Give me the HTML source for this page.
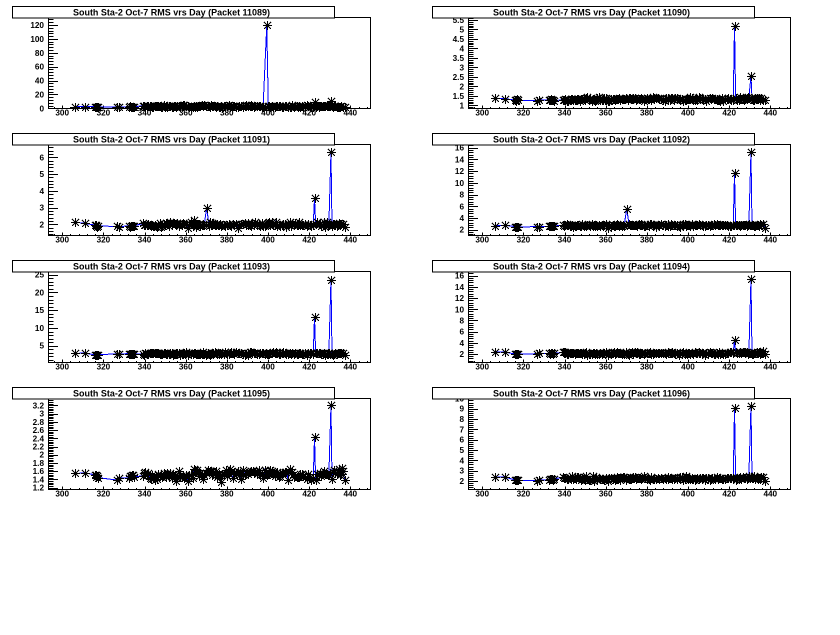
<!DOCTYPE html>
<html>
<head>
<meta charset="utf-8">
<style>
  html,body{margin:0;padding:0;background:#fff;}
  svg{display:block;}
  text{font-family:"Liberation Sans",Arial,sans-serif;font-weight:bold;fill:#000;}
  .yl text{font-size:8.2px;text-anchor:end;}
  .xl text{font-size:8.2px;text-anchor:middle;}
  .tt{font-size:9px;text-anchor:middle;}
  .tb{fill:#fff;stroke:#000;stroke-width:1;shape-rendering:crispEdges;}
  .fr{fill:none;stroke:#000;stroke-width:1;shape-rendering:crispEdges;}
</style>
</head>
<body>
<svg id="cv" xmlns="http://www.w3.org/2000/svg" width="840" height="635" viewBox="0 0 840 635">
<rect x="0" y="0" width="840" height="635" fill="#fff"/>

<!-- Pad 1: 11089 -->
<g transform="translate(0,0)">
 <g id="p0"></g>
 <rect class="fr" x="48.5" y="17.5" width="322" height="91"/>
 <g class="yl">
  <text x="44" y="111.3">0</text><text x="44" y="97.4">20</text><text x="44" y="83.5">40</text><text x="44" y="69.6">60</text><text x="44" y="55.8">80</text><text x="44" y="41.9">100</text><text x="44" y="28.0">120</text>
 </g>
 <g class="xl">
  <text x="62.2" y="115.5">300</text><text x="103.4" y="115.5">320</text><text x="144.5" y="115.5">340</text><text x="185.7" y="115.5">360</text><text x="226.8" y="115.5">380</text><text x="268" y="115.5">400</text><text x="309.2" y="115.5">420</text><text x="350.3" y="115.5">440</text>
 </g>
 <rect class="tb" x="12.5" y="6.5" width="322" height="11.5"/>
 <text class="tt" x="171.5" y="15.7" textLength="197" lengthAdjust="spacingAndGlyphs">South Sta-2 Oct-7 RMS vrs Day (Packet 11089)</text>
</g>

<!-- Pad 2: 11090 -->
<g transform="translate(420,0)">
 <g id="p1"></g>
 <rect class="fr" x="48.5" y="17.5" width="322" height="91"/>
 <g class="yl">
  <text x="44" y="108.3">1</text><text x="44" y="98.8">1.5</text><text x="44" y="89.3">2</text><text x="44" y="79.8">2.5</text><text x="44" y="70.3">3</text><text x="44" y="60.8">3.5</text><text x="44" y="51.3">4</text><text x="44" y="41.8">4.5</text><text x="44" y="32.3">5</text><text x="44" y="22.8">5.5</text>
 </g>
 <g class="xl">
  <text x="62.2" y="115.5">300</text><text x="103.4" y="115.5">320</text><text x="144.5" y="115.5">340</text><text x="185.7" y="115.5">360</text><text x="226.8" y="115.5">380</text><text x="268" y="115.5">400</text><text x="309.2" y="115.5">420</text><text x="350.3" y="115.5">440</text>
 </g>
 <rect class="tb" x="12.5" y="6.5" width="322" height="11.5"/>
 <text class="tt" x="171.5" y="15.7" textLength="197" lengthAdjust="spacingAndGlyphs">South Sta-2 Oct-7 RMS vrs Day (Packet 11090)</text>
</g>

<!-- Pad 3: 11091 -->
<g transform="translate(0,127)">
 <g id="p2"></g>
 <rect class="fr" x="48.5" y="17.5" width="322" height="91"/>
 <g class="yl">
  <text x="44" y="100.3">2</text><text x="44" y="83.6">3</text><text x="44" y="66.8">4</text><text x="44" y="50.1">5</text><text x="44" y="33.3">6</text>
 </g>
 <g class="xl">
  <text x="62.2" y="115.5">300</text><text x="103.4" y="115.5">320</text><text x="144.5" y="115.5">340</text><text x="185.7" y="115.5">360</text><text x="226.8" y="115.5">380</text><text x="268" y="115.5">400</text><text x="309.2" y="115.5">420</text><text x="350.3" y="115.5">440</text>
 </g>
 <rect class="tb" x="12.5" y="6.5" width="322" height="11.5"/>
 <text class="tt" x="171.5" y="15.7" textLength="197" lengthAdjust="spacingAndGlyphs">South Sta-2 Oct-7 RMS vrs Day (Packet 11091)</text>
</g>

<!-- Pad 4: 11092 -->
<g transform="translate(420,127)">
 <g id="p3"></g>
 <rect class="fr" x="48.5" y="17.5" width="322" height="91"/>
 <g class="yl">
  <text x="44" y="105.7">2</text><text x="44" y="94.0">4</text><text x="44" y="82.3">6</text><text x="44" y="70.6">8</text><text x="44" y="58.9">10</text><text x="44" y="47.1">12</text><text x="44" y="35.4">14</text><text x="44" y="23.7">16</text>
 </g>
 <g class="xl">
  <text x="62.2" y="115.5">300</text><text x="103.4" y="115.5">320</text><text x="144.5" y="115.5">340</text><text x="185.7" y="115.5">360</text><text x="226.8" y="115.5">380</text><text x="268" y="115.5">400</text><text x="309.2" y="115.5">420</text><text x="350.3" y="115.5">440</text>
 </g>
 <rect class="tb" x="12.5" y="6.5" width="322" height="11.5"/>
 <text class="tt" x="171.5" y="15.7" textLength="197" lengthAdjust="spacingAndGlyphs">South Sta-2 Oct-7 RMS vrs Day (Packet 11092)</text>
</g>

<!-- Pad 5: 11093 -->
<g transform="translate(0,254)">
 <g id="p4"></g>
 <rect class="fr" x="48.5" y="17.5" width="322" height="91"/>
 <g class="yl">
  <text x="44" y="94.7">5</text><text x="44" y="77.0">10</text><text x="44" y="59.2">15</text><text x="44" y="41.5">20</text><text x="44" y="23.7">25</text>
 </g>
 <g class="xl">
  <text x="62.2" y="115.5">300</text><text x="103.4" y="115.5">320</text><text x="144.5" y="115.5">340</text><text x="185.7" y="115.5">360</text><text x="226.8" y="115.5">380</text><text x="268" y="115.5">400</text><text x="309.2" y="115.5">420</text><text x="350.3" y="115.5">440</text>
 </g>
 <rect class="tb" x="12.5" y="6.5" width="322" height="11.5"/>
 <text class="tt" x="171.5" y="15.7" textLength="197" lengthAdjust="spacingAndGlyphs">South Sta-2 Oct-7 RMS vrs Day (Packet 11093)</text>
</g>

<!-- Pad 6: 11094 -->
<g transform="translate(420,254)">
 <g id="p5"></g>
 <rect class="fr" x="48.5" y="17.5" width="322" height="91"/>
 <g class="yl">
  <text x="44" y="103">2</text><text x="44" y="91.8">4</text><text x="44" y="80.6">6</text><text x="44" y="69.4">8</text><text x="44" y="58.3">10</text><text x="44" y="47.1">12</text><text x="44" y="35.9">14</text><text x="44" y="24.7">16</text>
 </g>
 <g class="xl">
  <text x="62.2" y="115.5">300</text><text x="103.4" y="115.5">320</text><text x="144.5" y="115.5">340</text><text x="185.7" y="115.5">360</text><text x="226.8" y="115.5">380</text><text x="268" y="115.5">400</text><text x="309.2" y="115.5">420</text><text x="350.3" y="115.5">440</text>
 </g>
 <rect class="tb" x="12.5" y="6.5" width="322" height="11.5"/>
 <text class="tt" x="171.5" y="15.7" textLength="197" lengthAdjust="spacingAndGlyphs">South Sta-2 Oct-7 RMS vrs Day (Packet 11094)</text>
</g>

<!-- Pad 7: 11095 -->
<g transform="translate(0,381)">
 <g id="p6"></g>
 <rect class="fr" x="48.5" y="17.5" width="322" height="91"/>
 <g class="yl">
  <text x="44" y="109.7">1.2</text><text x="44" y="101.5">1.4</text><text x="44" y="93.2">1.6</text><text x="44" y="85.0">1.8</text><text x="44" y="76.7">2</text><text x="44" y="68.5">2.2</text><text x="44" y="60.3">2.4</text><text x="44" y="52.0">2.6</text><text x="44" y="43.8">2.8</text><text x="44" y="35.5">3</text><text x="44" y="27.3">3.2</text>
 </g>
 <g class="xl">
  <text x="62.2" y="115.5">300</text><text x="103.4" y="115.5">320</text><text x="144.5" y="115.5">340</text><text x="185.7" y="115.5">360</text><text x="226.8" y="115.5">380</text><text x="268" y="115.5">400</text><text x="309.2" y="115.5">420</text><text x="350.3" y="115.5">440</text>
 </g>
 <rect class="tb" x="12.5" y="6.5" width="322" height="11.5"/>
 <text class="tt" x="171.5" y="15.7" textLength="197" lengthAdjust="spacingAndGlyphs">South Sta-2 Oct-7 RMS vrs Day (Packet 11095)</text>
</g>

<!-- Pad 8: 11096 -->
<g transform="translate(420,381)">
 <g id="p7"></g>
 <rect class="fr" x="48.5" y="17.5" width="322" height="91"/>
 <g class="yl">
  <text x="44" y="103">2</text><text x="44" y="92.7">3</text><text x="44" y="82.3">4</text><text x="44" y="72.0">5</text><text x="44" y="61.7">6</text><text x="44" y="51.3">7</text><text x="44" y="41.0">8</text><text x="44" y="30.7">9</text><text x="44" y="20.4">10</text>
 </g>
 <g class="xl">
  <text x="62.2" y="115.5">300</text><text x="103.4" y="115.5">320</text><text x="144.5" y="115.5">340</text><text x="185.7" y="115.5">360</text><text x="226.8" y="115.5">380</text><text x="268" y="115.5">400</text><text x="309.2" y="115.5">420</text><text x="350.3" y="115.5">440</text>
 </g>
 <rect class="tb" x="12.5" y="6.5" width="322" height="11.5"/>
 <text class="tt" x="171.5" y="15.7" textLength="197" lengthAdjust="spacingAndGlyphs">South Sta-2 Oct-7 RMS vrs Day (Packet 11096)</text>
</g>
</svg>

<script>
(function(){
  var NS = 'http://www.w3.org/2000/svg';
  function mulberry32(a){return function(){a|=0;a=a+0x6D2B79F5|0;var t=Math.imul(a^a>>>15,1|a);t=t+Math.imul(t^t>>>7,61|t)^t;return ((t^t>>>14)>>>0)/4294967296;};}
  var X0 = 62.2, XS = 2.058;
  function px(v){ return X0 + (v-300)*XS; }

  var R = mulberry32(7);
  var early = [306.4,311.2,315.9,316.2,316.6,317.0,317.4,326.6,327.8,332.6,333.0,333.4,333.8,334.3,334.7];
  var egrp  = [0,1,2,2,2,2,2,3,3,4,4,4,4,4,4];
  var dense = []; var x = 339.4;
  while (x < 436.7) { dense.push(x); x += 0.4 + 0.5*R(); }

  var pads = [
    {cal:[0,108.3,120,25.0], sec:4, e:[2.3,2.3,2.2,2.1,2.3], tr:[[339,3],[437,3]], sig:0.8, end:2.0,
     sp:[[399.4,120,1.2,0.6],[422.6,9.5,0.4,0.4],[430.6,11,0.4,0.4]], ex:[]},
    {cal:[1,105.3,5,29.3], sec:0.1, e:[1.4,1.36,1.28,1.27,1.28], tr:[[339,1.32],[437,1.33]], sig:0.045, end:1.3,
     sp:[[422.6,5.2,0.5,0.4],[430.6,2.55,0.8,0.4]], ex:[]},
    {cal:[2,97.3,6,30.3], sec:0.2, e:[2.12,2.06,1.92,1.88,1.9], tr:[[339,1.98],[437,2.0]], sig:0.075, end:1.82,
     sp:[[370.2,3.0,0.5,0.5],[422.6,3.55,0.5,0.4],[430.6,6.3,0.8,0.4]], ex:[[361,1.76],[364.2,2.25]]},
    {cal:[2,102.7,16,20.7], sec:0.4, e:[2.75,2.75,2.46,2.46,2.6], tr:[[339,2.72],[437,2.8]], sig:0.12, end:2.34,
     sp:[[370.2,5.6,0.5,0.5],[422.6,11.7,0.5,0.4],[430.6,15.2,0.8,0.4]], ex:[[361,2.3]]},
    {cal:[5,91.7,25,20.7], sec:1, e:[2.94,2.94,2.46,2.6,2.7], tr:[[339,2.8],[437,2.85]], sig:0.18, end:2.46,
     sp:[[422.6,13.2,0.5,0.4],[430.6,23.6,0.8,0.4]], ex:[[361,2.3]]},
    {cal:[2,100,16,21.7], sec:0.4, e:[2.35,2.35,2.0,2.0,2.1], tr:[[339,2.15],[437,2.2]], sig:0.12, end:1.95,
     sp:[[422.6,4.5,0.5,0.4],[430.6,15.4,0.8,0.4]], ex:[[361,1.85]]},
    {cal:[1.2,106.7,3.2,24.3], sec:0.04, e:[1.55,1.55,1.46,1.4,1.46],
     tr:[[339,1.47],[352,1.48],[365,1.55],[400,1.54],[420,1.48],[437,1.56]], sig:0.055, end:1.38,
     sp:[[422.6,2.42,0.5,0.4],[430.6,3.2,0.8,0.4]],
     ex:[[361,1.37],[377.2,1.34],[364.3,1.63],[379.5,1.62],[388,1.64],[392.5,1.6],[410.5,1.65],[434.5,1.66],[436,1.68]]},
    {cal:[2,100,9,27.7], sec:0.2, e:[2.36,2.36,2.1,2.07,2.16], tr:[[339,2.25],[437,2.3]], sig:0.09, end:2.0,
     sp:[[422.6,9.1,0.5,0.4],[430.6,9.3,0.8,0.4]], ex:[[361,2.0]]}
  ];

  function interp(tr, x){
    if (x <= tr[0][0]) return tr[0][1];
    for (var i=1;i<tr.length;i++){
      if (x <= tr[i][0]) { var a=tr[i-1], b=tr[i]; return a[1] + (b[1]-a[1])*(x-a[0])/(b[0]-a[0]); }
    }
    return tr[tr.length-1][1];
  }

  pads.forEach(function(cfg, idx){
    var vA=cfg.cal[0], yA=cfg.cal[1], vB=cfg.cal[2], yB=cfg.cal[3];
    var k=(yA-yB)/(vB-vA);
    function py(v){ return yA-(v-vA)*k; }
    var vmin = vA-(108.5-yA)/k, vmax = vA+(yA-17.8)/k;

    var d='';
    var s=cfg.sec;
    var i0=Math.ceil(vmin/s-1e-6), i1=Math.floor(vmax/s+1e-6);
    for (var i=i0;i<=i1;i++){
      var yy=Math.round(py(i*s))+0.5;
      var major=(((i%5)+5)%5===0);
      d+='M48.5 '+yy+'h'+(major?9.5:5);
    }
    for (var v=296; v<=448; v+=4){
      var xx=Math.round(px(v))+0.5;
      d+='M'+xx+' 108.5v-'+(v%20===0?3:1.5);
    }

    var r=mulberry32(101+idx*17);
    function g(){ return (r()+r()+r()-1.5)/0.5; }
    var pts=[];
    early.forEach(function(x,j){ pts.push([x, cfg.e[egrp[j]] + g()*cfg.sig*0.4]); });
    dense.forEach(function(x){
      var skip=false;
      cfg.sp.forEach(function(sp){ if (x>sp[0]-sp[2] && x<sp[0]+sp[3]) skip=true; });
      cfg.ex.forEach(function(e){ if (Math.abs(x-e[0])<0.3) skip=true; });
      if (!skip) pts.push([x, interp(cfg.tr,x) + g()*cfg.sig]);
    });
    cfg.sp.forEach(function(sp){ pts.push([sp[0], sp[1]]); });
    cfg.ex.forEach(function(e){ pts.push([e[0], e[1]]); });
    pts.push([437.4, cfg.end]);
    pts.sort(function(a,b){return a[0]-b[0];});

    var line='M'+pts.map(function(p){ return px(p[0]).toFixed(2)+' '+py(p[1]).toFixed(2); }).join('L');
    var stars='';
    pts.forEach(function(p){
      var cx=Math.round(px(p[0]))+0.5, cy=Math.round(py(p[1]))+0.5;
      stars+='M'+(cx-4.5)+' '+cy+'h9M'+cx+' '+(cy-4.5)+'v9M'+(cx-3.5)+' '+(cy-3.5)+'l7 7M'+(cx-3.5)+' '+(cy+3.5)+'l7 -7';
    });

    var host=document.getElementById('p'+idx);
    var t=document.createElementNS(NS,'path');
    t.setAttribute('d',d); t.setAttribute('stroke','#000'); t.setAttribute('stroke-width','1');
    t.setAttribute('fill','none'); t.setAttribute('shape-rendering','crispEdges');
    host.appendChild(t);
    var l=document.createElementNS(NS,'path');
    l.setAttribute('d',line); l.setAttribute('stroke','#0000ff'); l.setAttribute('stroke-width','1');
    l.setAttribute('fill','none'); l.setAttribute('shape-rendering','crispEdges');
    host.appendChild(l);
    var st=document.createElementNS(NS,'path');
    st.setAttribute('d',stars); st.setAttribute('stroke','#000'); st.setAttribute('stroke-width','1');
    st.setAttribute('fill','none'); st.setAttribute('shape-rendering','crispEdges');
    host.appendChild(st);
  });
})();
</script>
</body>
</html>
